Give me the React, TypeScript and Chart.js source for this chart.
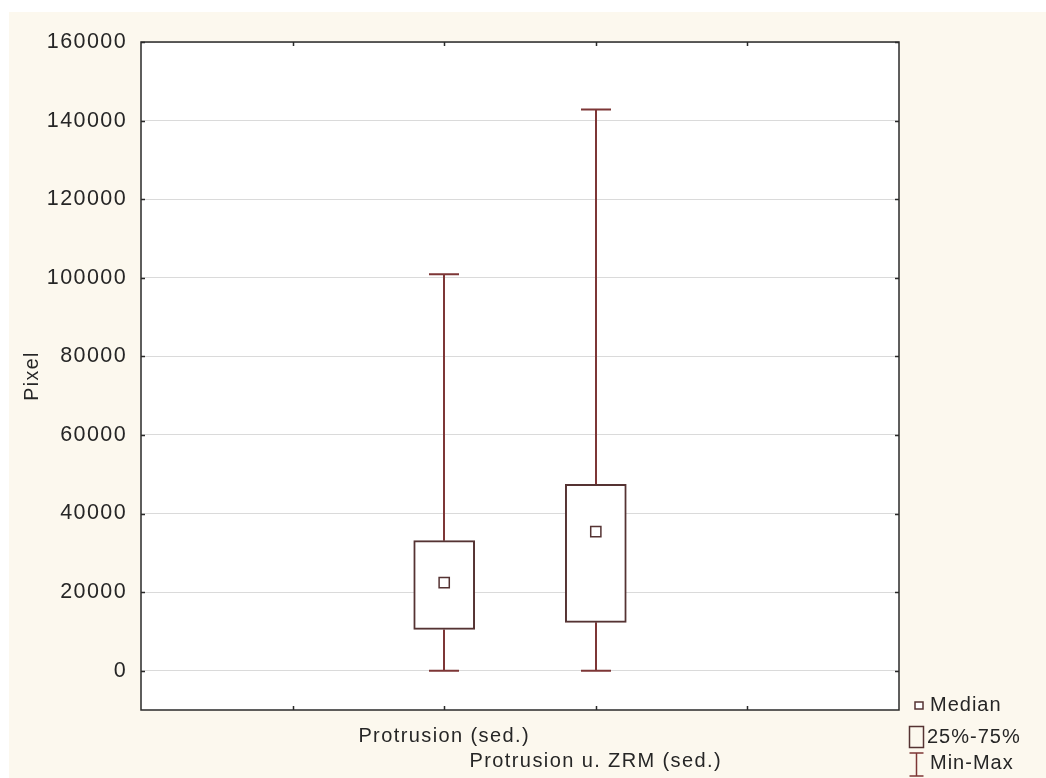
import React, { useEffect, useRef } from 'react';
import { Chart, registerables } from 'chart.js';

Chart.register(...registerables);

// ---- data ----
const categories = ['Protrusion (sed.)', 'Protrusion u. ZRM (sed.)'];
const positions = [2, 3];
const mins = [0, 0];
const q1s = [10500, 12300];
const medians = [22400, 35400];
const q3s = [33100, 47400];
const maxs = [100900, 142800];
const yTicks = [0, 20000, 40000, 60000, 80000, 100000, 120000, 140000, 160000];
const xTicks = [1, 2, 3, 4];
const legendLabels = ['Median', '25%-75%', 'Min-Max'];
const yTitle = 'Pixel';

// ---- styles ----
const FONT = "'Liberation Sans', Arial, sans-serif";
const CREAM = '#fcf8ee';
const BOX = '#553333';
const WHISKER = '#7d3636';
const TEXT = '#262626';
const SPACING = '1.4px';

export default function App() {
  const ref = useRef<HTMLCanvasElement>(null);

  useEffect(() => {
    const canvas = ref.current;
    if (!canvas) return;

    const setSpacing = (chart: any) => {
      (chart.ctx as any).letterSpacing = SPACING;
    };

    const deco = {
      id: 'deco',
      beforeUpdate(chart: any) {
        setSpacing(chart);
      },
      beforeDraw(chart: any) {
        const { ctx, chartArea: a } = chart;
        setSpacing(chart);
        ctx.save();
        ctx.fillStyle = CREAM;
        ctx.fillRect(0, 0, chart.width, chart.height);
        ctx.fillStyle = '#ffffff';
        ctx.fillRect(a.left, a.top, a.right - a.left, a.bottom - a.top);
        ctx.restore();
      },
      beforeDatasetsDraw(chart: any) {
        const { ctx } = chart;
        const xs = chart.scales.x;
        const ys = chart.scales.y;
        ctx.save();
        ctx.strokeStyle = WHISKER;
        ctx.lineWidth = 2;
        const cap = 15;
        positions.forEach((p, i) => {
          const px = Math.round(xs.getPixelForValue(p));
          const yMax = ys.getPixelForValue(maxs[i]);
          const yQ3 = ys.getPixelForValue(q3s[i]);
          const yQ1 = ys.getPixelForValue(q1s[i]);
          const yMin = ys.getPixelForValue(mins[i]);
          ctx.beginPath();
          ctx.moveTo(px, yMax);
          ctx.lineTo(px, yQ3);
          ctx.moveTo(px, yQ1);
          ctx.lineTo(px, yMin);
          ctx.moveTo(px - cap, yMax);
          ctx.lineTo(px + cap, yMax);
          ctx.moveTo(px - cap, yMin);
          ctx.lineTo(px + cap, yMin);
          ctx.stroke();
        });
        ctx.restore();
      },
      afterDraw(chart: any) {
        const { ctx, chartArea: a } = chart;
        const xs = chart.scales.x;
        const ys = chart.scales.y;
        ctx.save();
        // frame
        ctx.strokeStyle = '#2a2a2a';
        ctx.lineWidth = 1.5;
        ctx.strokeRect(a.left, a.top, a.right - a.left, a.bottom - a.top);
        // inward tick marks
        ctx.beginPath();
        yTicks.forEach((v) => {
          const py = Math.round(ys.getPixelForValue(v)) + 0.5;
          ctx.moveTo(a.left, py);
          ctx.lineTo(a.left + 4, py);
          ctx.moveTo(a.right, py);
          ctx.lineTo(a.right - 4, py);
        });
        xTicks.forEach((v) => {
          const px = Math.round(xs.getPixelForValue(v)) + 0.5;
          ctx.moveTo(px, a.top);
          ctx.lineTo(px, a.top + 4);
          ctx.moveTo(px, a.bottom);
          ctx.lineTo(px, a.bottom - 4);
        });
        ctx.stroke();

        // legend
        ctx.font = `20px ${FONT}`;
        (ctx as any).letterSpacing = '1px';
        ctx.fillStyle = TEXT;
        ctx.textBaseline = 'middle';
        ctx.textAlign = 'left';
        const lx = a.right + 10;
        // median marker
        ctx.strokeStyle = BOX;
        ctx.lineWidth = 1.5;
        ctx.fillStyle = '#ffffff';
        ctx.fillRect(lx + 6, a.bottom - 8, 8, 7);
        ctx.strokeRect(lx + 6, a.bottom - 8, 8, 7);
        ctx.fillStyle = TEXT;
        ctx.fillText(legendLabels[0], lx + 21, a.bottom - 5);
        // box marker
        ctx.strokeRect(lx + 0.5, a.bottom + 16.5, 14, 21);
        ctx.fillText(legendLabels[1], lx + 18, a.bottom + 27);
        // min-max marker
        ctx.strokeStyle = WHISKER;
        ctx.beginPath();
        const cx = lx + 7.5;
        ctx.moveTo(cx, a.bottom + 43);
        ctx.lineTo(cx, a.bottom + 66);
        ctx.moveTo(cx - 7, a.bottom + 43);
        ctx.lineTo(cx + 7, a.bottom + 43);
        ctx.moveTo(cx - 7, a.bottom + 66);
        ctx.lineTo(cx + 7, a.bottom + 66);
        ctx.stroke();
        ctx.fillText(legendLabels[2], lx + 21, a.bottom + 53);
        ctx.restore();
      },
    };

    const chart = new Chart(canvas, {
      type: 'bar',
      data: {
        datasets: [
          {
            type: 'scatter',
            data: positions.map((p, i) => ({ x: p, y: medians[i] })),
            pointStyle: 'rect',
            pointRadius: 7.2,
            pointBackgroundColor: '#ffffff',
            pointBorderColor: BOX,
            pointBorderWidth: 1.5,
            order: 0,
          } as any,
          {
            type: 'bar',
            data: positions.map((p, i) => ({ x: p, y: [q1s[i], q3s[i]] })),
            backgroundColor: '#ffffff',
            borderColor: BOX,
            borderWidth: 2,
            borderSkipped: false,
            barThickness: 61,
            grouped: false,
            order: 1,
          } as any,
        ],
      },
      options: {
        animation: false,
        responsive: false,
        events: [],
        layout: { padding: { top: 30, right: 147, left: 0, bottom: 0 } },
        plugins: {
          legend: { display: false },
          tooltip: { enabled: false },
        },
        scales: {
          x: {
            type: 'linear',
            min: 0,
            max: 5,
            offset: false,
            grid: { display: false, drawTicks: false },
            border: { display: false },
            afterBuildTicks: (scale: any) => {
              scale.ticks = xTicks.map((v) => ({ value: v }));
            },
            afterFit: (scale: any) => {
              scale.height = 68;
            },
            ticks: {
              autoSkip: false,
              maxRotation: 0,
              minRotation: 0,
              padding: 14,
              color: TEXT,
              font: { family: FONT, size: 20, lineHeight: 1.25 },
              callback: (v: any) => {
                const idx = positions.indexOf(Number(v));
                if (idx < 0) return '';
                return idx % 2 === 0 ? categories[idx] : ['', categories[idx]];
              },
            },
          },
          y: {
            type: 'linear',
            min: -10000,
            max: 160000,
            grid: { color: '#dadada', lineWidth: 1, drawTicks: false },
            border: { display: false },
            afterBuildTicks: (scale: any) => {
              scale.ticks = yTicks.map((v) => ({ value: v }));
            },
            afterFit: (scale: any) => {
              scale.width = 132;
            },
            ticks: {
              padding: 14,
              color: TEXT,
              font: { family: FONT, size: 21.5 },
              callback: (v: any) => String(v),
            },
            title: {
              display: true,
              text: yTitle,
              color: TEXT,
              padding: { top: 12, bottom: 0 },
              font: { family: FONT, size: 19.5 },
            },
          },
        },
      } as any,
      plugins: [deco],
    });

    return () => chart.destroy();
  }, []);

  return (
    <div
      style={{
        position: 'fixed',
        left: 9,
        top: 12,
        width: 1037,
        height: 766,
        background: CREAM,
      }}
    >
      <canvas ref={ref} width={1037} height={766} style={{ display: 'block' }} />
    </div>
  );
}
